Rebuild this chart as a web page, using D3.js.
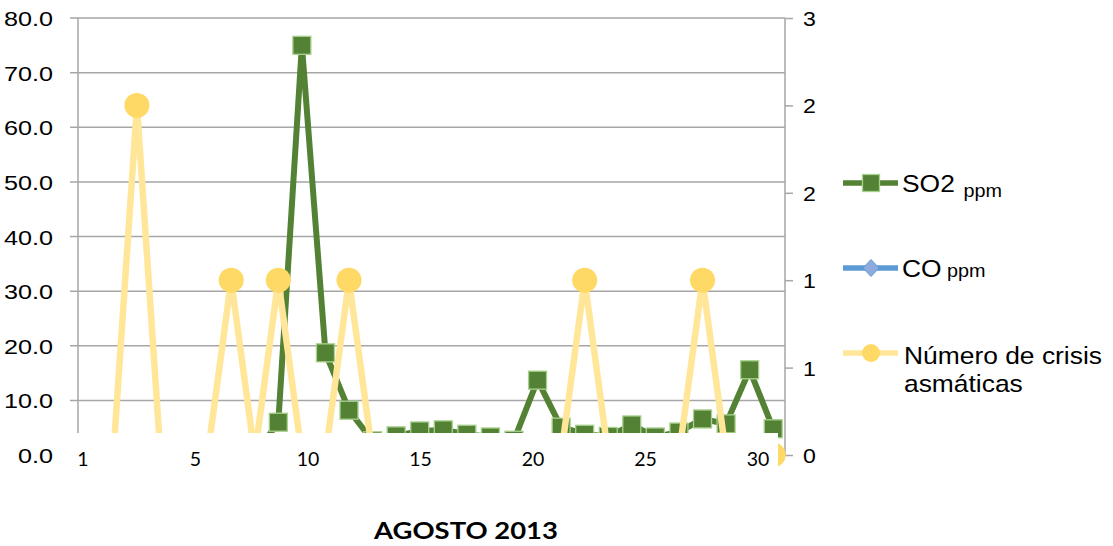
<!DOCTYPE html>
<html>
<head>
<meta charset="utf-8">
<script src="https://cdn.jsdelivr.net/npm/d3@7"></script>
<style>
  body { margin: 0; background: #ffffff; }
  svg { display: block; }
</style>
</head>
<body>
<svg id="chart" width="1113" height="546"></svg>
<script>
// ---- data: daily readings, August 2013 ----
const days = [1, 2, 3, 4, 5, 6, 7, 8, 9, 10, 11, 12, 13, 14, 15,
              16, 17, 18, 19, 20, 21, 22, 23, 24, 25, 26, 27, 28, 29, 30];
const so2 = [0, 0, 0, 0, 0, 0, 0, 0, 6.0, 75.0, 18.7, 8.2, 2.6, 3.5, 4.4,
             4.6, 3.8, 3.3, 2.7, 13.7, 5.1, 3.8, 3.4, 5.5, 3.3, 4.2, 6.6, 5.7, 15.6, 4.8];
const co = [1.1, 1.2, 1.0, 1.3, 1.2, 1.1, 1.4, 1.2, 1.3, 1.5, 1.2, 1.1, 1.0, 1.2, 1.3,
            1.1, 1.2, 1.4, 1.1, 1.3, 1.2, 1.0, 1.1, 1.3, 1.2, 1.1, 1.4, 1.2, 1.3, 1.3];
const crisis = [0, 0, 2, 0, 0, 0, 1, 0, 1, 0, 0, 1, 0, 0, 0,
                0, 0, 0, 0, 0, 0, 1, 0, 0, 0, 0, 1, 0, 0, 0];

const leftTicks = [0, 10, 20, 30, 40, 50, 60, 70, 80];
const rightTicks = [0, 0.5, 1, 1.5, 2, 2.5];
const dayLabels = ["1", "5", "10", "15", "20", "25", "30"];
const titleText = "AGOSTO 2013";

// ---- layout ----
const W = 1113, H = 546;
const plot = { left: 78, right: 785, top: 18, bottom: 455 };
const GRID = "#a6a6a6";
const GREEN = "#548235", GREEN_EDGE = "#a9d18e";
const BLUE = "#5b9bd5", BLUE_FILL = "#8faadc";
const YELLOW_LINE = "#ffe699", YELLOW_DOT = "#ffd966";
const SANS = "'Liberation Sans', Arial, sans-serif";
const CAL = "Lato, 'Open Sans', sans-serif";

const svg = d3.select("#chart");

const x = d3.scaleBand().domain(days).range([plot.left, plot.right]).padding(0);
const cx = d => x(d) + x.bandwidth() / 2;
const yL = d3.scaleLinear().domain([0, 80]).range([plot.bottom, plot.top]);
const yR = d3.scaleLinear().domain([0, 2.5]).range([plot.bottom, plot.top]);

// text with a horizontal stretch around its anchor point
function sText(parent, px, py, str, size, sx, opts = {}) {
  const g = parent.append("g").attr("transform", `translate(${px},${py}) scale(${sx},1)`);
  const t = g.append("text")
    .attr("x", 0).attr("y", 0)
    .attr("font-family", opts.family || SANS)
    .attr("font-size", size)
    .attr("font-weight", opts.weight || "normal")
    .attr("text-anchor", opts.anchor || "start")
    .attr("fill", opts.fill || "#000")
    .text(str);
  return t;
}

// ---- gridlines (left axis) ----
svg.append("g").selectAll("line").data(leftTicks).join("line")
  .attr("x1", plot.left - 8).attr("x2", plot.right)
  .attr("y1", d => yL(d)).attr("y2", d => yL(d))
  .attr("stroke", GRID).attr("stroke-width", 1.5);

// ---- axis lines ----
svg.append("line").attr("x1", plot.left).attr("x2", plot.left)
  .attr("y1", plot.top).attr("y2", plot.bottom)
  .attr("stroke", GRID).attr("stroke-width", 1.5);
const rAxis = svg.append("g").attr("transform", `translate(${plot.right},0)`)
  .call(d3.axisRight(yR).tickValues(rightTicks).tickSize(8).tickFormat(""));
rAxis.select(".domain").attr("stroke", GRID).attr("stroke-width", 1.5)
  .attr("d", `M0,${plot.top}V${plot.bottom}`);
rAxis.selectAll(".tick line").attr("stroke", GRID).attr("stroke-width", 1.5);

// ---- axis labels ----
const leftLab = svg.append("g");
leftTicks.forEach(v => sText(leftLab, 53, yL(v) + 8, d3.format(".1f")(v), 21, 1.2, { anchor: "end" }));
const rightLab = svg.append("g");
rightTicks.forEach(v => sText(rightLab, 803, yR(v) + 8, d3.format(".0f")(v + 1e-9), 21, 1.1));

// ---- series ----
const line = (ys, data) => d3.line().x((d, i) => cx(days[i])).y(d => ys(d))(data);

// SO2
svg.append("path").attr("d", line(yL, so2))
  .attr("fill", "none").attr("stroke", GREEN).attr("stroke-width", 6)
  .attr("stroke-linejoin", "round");
svg.append("g").selectAll("rect").data(so2).join("rect")
  .attr("x", (d, i) => cx(days[i]) - 9).attr("y", d => yL(d) - 9)
  .attr("width", 18).attr("height", 18)
  .attr("fill", GREEN).attr("stroke", GREEN_EDGE).attr("stroke-width", 1.3);

// CO
svg.append("path").attr("d", line(yL, co))
  .attr("fill", "none").attr("stroke", BLUE).attr("stroke-width", 5)
  .attr("stroke-linejoin", "round");
svg.append("g").selectAll("path").data(co).join("path")
  .attr("d", (d, i) => {
    const px = cx(days[i]), py = yL(d);
    return `M${px},${py - 8}L${px + 8},${py}L${px},${py + 8}L${px - 8},${py}Z`;
  })
  .attr("fill", BLUE_FILL).attr("stroke", BLUE).attr("stroke-width", 1);

// asthma crises (right axis)
svg.append("path").attr("d", line(yR, crisis))
  .attr("fill", "none").attr("stroke", YELLOW_LINE).attr("stroke-width", 6.5)
  .attr("stroke-linejoin", "round");
svg.append("g").selectAll("circle").data(crisis).join("circle")
  .attr("cx", (d, i) => cx(days[i])).attr("cy", d => yR(d))
  .attr("r", 12.5).attr("fill", YELLOW_DOT);

// ---- day label box laid over the lower strip ----
svg.append("rect").attr("x", 64).attr("y", 433)
  .attr("width", 778 - 64).attr("height", 50).attr("fill", "#ffffff");
const lx = d3.scalePoint().domain(dayLabels).range([83, 758]);
svg.append("g").selectAll("text").data(dayLabels).join("text")
  .attr("x", d => lx(d)).attr("y", 466)
  .attr("text-anchor", "middle")
  .attr("font-family", CAL).attr("font-size", 19.5).attr("fill", "#000")
  .text(d => d);

// ---- title ----
sText(svg, 466, 539, titleText, 22.5, 1.22, { anchor: "middle", family: CAL, weight: "bold" });

// ---- legend ----
const lg = svg.append("g");
const legendRows = [
  { y: 183, kind: "square" },
  { y: 268, kind: "diamond" },
  { y: 353, kind: "circle" }
];
legendRows.forEach(r => {
  const col = r.kind === "square" ? GREEN : r.kind === "diamond" ? BLUE : YELLOW_LINE;
  lg.append("line").attr("x1", 843).attr("x2", 898).attr("y1", r.y).attr("y2", r.y)
    .attr("stroke", col).attr("stroke-width", 5.5);
  if (r.kind === "square") {
    lg.append("rect").attr("x", 871 - 8.5).attr("y", r.y - 8.5).attr("width", 17).attr("height", 17)
      .attr("fill", GREEN).attr("stroke", GREEN_EDGE).attr("stroke-width", 1.3);
  } else if (r.kind === "diamond") {
    lg.append("path").attr("d", `M871,${r.y - 8.5}L879,${r.y}L871,${r.y + 8.5}L863,${r.y}Z`)
      .attr("fill", BLUE_FILL).attr("stroke", BLUE).attr("stroke-width", 1);
  } else {
    lg.append("circle").attr("cx", 871).attr("cy", r.y).attr("r", 9).attr("fill", YELLOW_DOT);
  }
});
const t1 = sText(lg, 902, 192, "SO2", 24, 1.1);
t1.append("tspan").attr("font-size", 18).attr("dx", 8).attr("dy", 5).text("ppm");
const t2 = sText(lg, 902, 277, "CO", 24, 1.1);
t2.append("tspan").attr("font-size", 18).attr("dx", 5).text("ppm");
sText(lg, 904, 364, "Número de crisis", 24, 1.1);
sText(lg, 904, 392, "asmáticas", 24, 1.1);
</script>
</body>
</html>
